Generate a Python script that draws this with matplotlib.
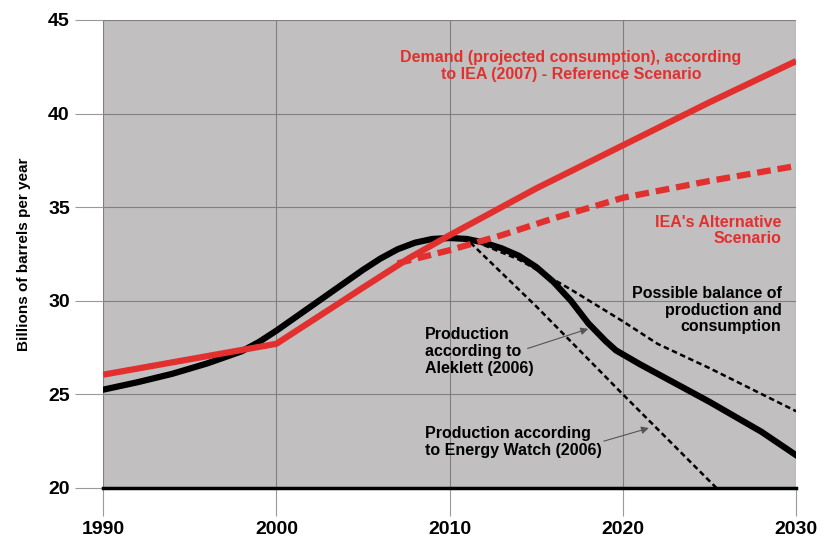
"""Oil demand vs production scenarios, 1990-2030."""
import numpy as np
import matplotlib.pyplot as plt

plt.rcParams['font.family'] = ['Liberation Sans', 'DejaVu Sans']

# Demand according to IEA (2007) reference scenario
demand_years = [1990, 2000, 2005, 2007.7, 2010, 2015, 2020, 2025, 2030]
demand = [26.05, 27.7, 30.7, 32.3, 33.5, 36.0, 38.3, 40.6, 42.8]

# IEA alternative scenario
alt_years = [2007, 2010, 2013, 2016, 2020, 2025, 2030]
alt = [32.0, 32.7, 33.5, 34.4, 35.5, 36.4, 37.2]

# Production according to Aleklett (2006)
prod_years = [1990, 1992, 1994, 1996, 1998, 1999, 2000, 2001, 2002, 2003,
              2004, 2005, 2006, 2007, 2008, 2009, 2010, 2011,
              2012, 2013, 2014, 2015, 2016, 2017, 2018, 2019, 2019.6,
              2021, 2022, 2025, 2028, 2030]
prod = [25.25, 25.65, 26.1, 26.65, 27.3, 27.8, 28.4, 29.05, 29.7, 30.35,
        31.0, 31.65, 32.25, 32.75, 33.1, 33.3, 33.35, 33.3,
        33.1, 32.8, 32.4, 31.8, 31.0, 30.0, 28.8, 27.85, 27.35,
        26.6, 26.1, 24.6, 23.0, 21.75]

# Possible balance of production and consumption
balance_years = [2011.5, 2014, 2017, 2020, 2022, 2025, 2030]
balance = [33.15, 32.2, 30.6, 28.9, 27.7, 26.4, 24.1]

# Production according to Energy Watch (2006)
ew_years = [2011.2, 2015, 2020, 2025.4]
ew = [33.1, 29.7, 25.0, 20.0]

red = '#e2302e'
fig = plt.figure(figsize=(8.25, 5.38), dpi=100)
ax = fig.add_axes([0.125, 0.093, 0.84, 0.87])
ax.set_facecolor('#c1bfbf')

ax.plot(demand_years, demand, color=red, lw=4.5, solid_capstyle='butt', zorder=4)
ax.plot(alt_years, alt, color=red, lw=4.5, ls=(0, (2.2, 1.1)), zorder=4)
ax.plot(prod_years, prod, color='black', lw=4.5, zorder=3)
ax.plot(balance_years, balance, color='black', lw=1.8, ls=(0, (2.2, 1.4)), zorder=3)
ax.plot(ew_years, ew, color='black', lw=1.8, ls=(0, (2.2, 1.4)), zorder=3)

ax.set_xlim(1990, 2030)
ax.set_ylim(20, 45)
ax.set_xticks([1990, 2000, 2010, 2020, 2030])
ax.set_yticks([20, 25, 30, 35, 40, 45])
ax.grid(color='#807e7e', lw=0.8, zorder=1)
ax.set_axisbelow(True)
for s in ax.spines.values():
    s.set_visible(False)
ax.axhline(20, color='black', lw=2.5, zorder=5, clip_on=False)
ax.tick_params(axis='both', length=20, width=0.8, color='#9a9898',
               labelsize=14, pad=4)
for lab in ax.get_xticklabels() + ax.get_yticklabels():
    lab.set_fontweight('bold')
ax.set_ylabel('Billions of barrels per year', fontsize=11, fontweight='bold',
              labelpad=12)

tkw = dict(fontsize=11.5, fontweight='bold', va='center', linespacing=1.15)
ax.text(2017.0, 42.55, 'Demand (projected consumption), according\n'
        'to IEA (2007) - Reference Scenario', color=red, ha='center', **tkw)
ax.text(2029.15, 33.75, "IEA's Alternative\nScenario", color=red, ha='right',
        multialignment='right', **tkw)
ax.text(2029.15, 29.5, 'Possible balance of\nproduction and\nconsumption',
        ha='right', multialignment='right', **tkw)
ax.text(2008.6, 27.3, 'Production\naccording to\nAleklett (2006)',
        ha='left', **tkw)
ax.text(2008.6, 22.45, 'Production according\nto Energy Watch (2006)',
        ha='left', **tkw)
ax.annotate('', xy=(2018.0, 28.5), xytext=(2014.5, 27.45),
            arrowprops=dict(arrowstyle='-|>', color='#555555', lw=0.8,
                            mutation_scale=11, shrinkA=0, shrinkB=0))
ax.annotate('', xy=(2021.5, 23.2), xytext=(2018.9, 22.5),
            arrowprops=dict(arrowstyle='-|>', color='#555555', lw=0.8,
                            mutation_scale=11, shrinkA=0, shrinkB=0))

plt.savefig('out.png', dpi=100)
